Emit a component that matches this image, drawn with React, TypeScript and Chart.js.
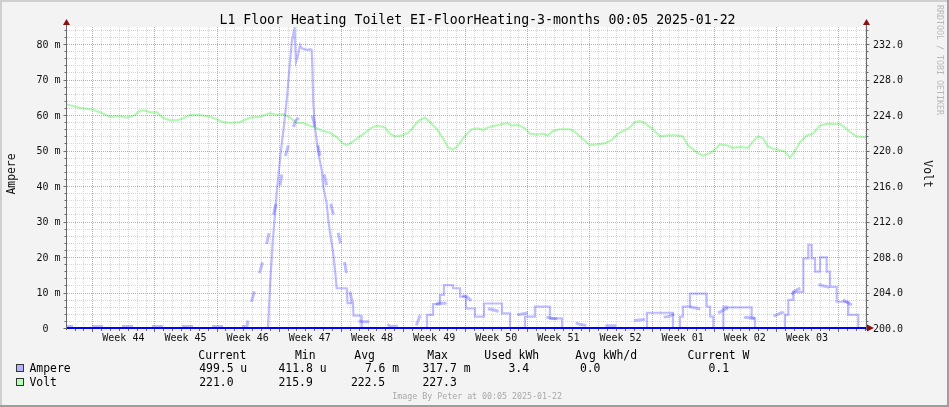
import React, { useEffect, useRef } from "react";
import { Chart, registerables } from "chart.js";

Chart.register(...registerables);

// ---------------- texts ----------------
const TITLE = "L1 Floor Heating Toilet EI-FloorHeating-3-months 00:05 2025-01-22";
const FOOTER = "Image By Peter at 00:05 2025-01-22";
const WATERMARK = "RRDTOOL / TOBI OETIKER";
const LEFT_AXIS_TITLE = "Ampere";
const RIGHT_AXIS_TITLE = "Volt";

// ---------------- axes ----------------
const SPAN_DAYS = 90; // x axis in days from left edge
const FIRST_WEEK_LINE = 2.85; // day of first week boundary
const WEEK_LABELS = ["Week 44", "Week 45", "Week 46", "Week 47", "Week 48", "Week 49", "Week 50", "Week 51", "Week 52", "Week 01", "Week 02", "Week 03"];
const AMP_MAX = 84.79; // milli-ampere
const VOLT_MIN = 200;
const VOLT_MAX = 233.92;
const AMP_TICKS = [0, 10, 20, 30, 40, 50, 60, 70, 80];
const AMP_TICK_LABELS = ["0  ", "10 m", "20 m", "30 m", "40 m", "50 m", "60 m", "70 m", "80 m"];
const VOLT_TICKS = [200, 204, 208, 212, 216, 220, 224, 228, 232];
const VOLT_TICK_LABELS = ["200.0", "204.0", "208.0", "212.0", "216.0", "220.0", "224.0", "228.0", "232.0"];
const AMP_MINOR_STEP = 2;

// ---------------- series ----------------
const voltDays = [0, 0.34, 1.46, 2.93, 3.72, 4.84, 5.97, 6.76, 7.66, 8.22,
  8.78, 9.35, 10.14, 10.81, 11.6, 12.39, 13.06, 13.85, 14.98, 16.1,
  16.89, 17.57, 18.36, 19.48, 20.61, 21.73, 22.86, 23.65, 24.32, 25.11,
  25.9, 26.58, 27.36, 28.15, 28.83, 29.62, 30.41, 31.08, 31.53, 32.21,
  33.0, 33.56, 34.35, 35.02, 35.81, 36.37, 36.94, 37.73, 38.4, 38.85,
  39.53, 40.32, 40.88, 41.67, 42.34, 42.91, 43.36, 43.92, 44.48, 45.05,
  45.61, 46.28, 46.85, 47.41, 48.2, 48.76, 49.55, 50.11, 50.79, 51.58,
  52.14, 52.93, 53.6, 54.17, 54.73, 55.52, 56.64, 57.21, 58.0, 58.9,
  59.68, 60.59, 61.37, 62.05, 62.84, 63.4, 63.96, 64.53, 65.09, 65.99,
  66.78, 67.68, 68.69, 69.37, 69.93, 70.95, 71.62, 72.41, 72.97, 73.54,
  74.32, 75.0, 75.79, 76.69, 77.25, 77.82, 78.38, 78.94, 79.5, 80.07,
  80.86, 81.42, 81.98, 82.55, 83.33, 84.01, 84.8, 85.59, 86.26, 87.05,
  87.61, 88.18, 88.96, 90];
const voltValues = [225.2, 225.1, 224.8, 224.6, 224.3, 223.8, 223.9, 223.7, 224.0, 224.5,
  224.5, 224.3, 224.3, 223.7, 223.4, 223.4, 223.6, 224.0, 224.0, 223.8,
  223.5, 223.2, 223.1, 223.2, 223.7, 223.8, 224.2, 224.0, 224.1, 223.7,
  223.1, 223.1, 222.8, 222.5, 222.2, 222.0, 221.5, 220.8, 220.6, 221.0,
  221.6, 222.0, 222.6, 222.8, 222.6, 221.9, 221.6, 221.7, 222.0, 222.4,
  223.3, 223.7, 223.2, 222.4, 221.4, 220.4, 220.1, 220.4, 221.2, 221.9,
  222.4, 222.5, 222.3, 222.6, 222.8, 222.9, 223.1, 222.8, 222.9, 222.5,
  221.9, 221.8, 221.9, 221.7, 222.2, 222.4, 222.4, 222.1, 221.4, 220.6,
  220.7, 220.8, 221.2, 221.9, 222.3, 222.6, 223.2, 223.3, 223.1, 222.4,
  221.6, 221.7, 221.7, 221.6, 220.6, 219.8, 219.4, 219.7, 220.1, 220.7,
  220.6, 220.3, 220.4, 220.3, 221.0, 221.6, 221.4, 220.5, 220.2, 220.1,
  219.9, 219.2, 219.9, 220.9, 221.7, 221.9, 222.8, 223.0, 223.0, 223.0,
  222.6, 222.1, 221.6, 221.5];

const ampDays = [0, 22.64, 22.87, 23.2, 23.65, 24.1, 24.44, 24.78, 25.12, 25.34,
  25.63, 25.79, 25.99, 26.25, 26.44, 26.81, 27.18, 27.37, 27.56, 27.65,
  27.74, 27.93, 28.31, 28.69, 28.87, 29.25, 29.43, 29.7, 29.99, 30.19,
  30.38, 31.51, 31.6, 32.21, 32.27, 33.12, 33.2,
  40.55, 40.55, 41.23, 41.23, 42.01, 42.01, 42.46, 42.46, 43.48, 43.48,
  44.27, 44.27, 44.94, 44.94, 45.96, 45.96, 46.97, 46.97, 49.0, 49.0,
  49.9, 49.9, 51.59, 51.59, 52.71, 52.71, 54.4, 54.4, 55.76, 55.76,
  65.33, 65.33, 68.26, 68.26, 69.05, 69.05, 69.38, 69.38, 70.17, 70.17,
  72.05, 72.05, 72.43, 72.43, 72.8, 72.8, 73.93, 73.93, 74.31, 74.31,
  77.12, 77.12, 77.5, 77.5, 80.87, 80.87, 81.25, 81.25, 81.81, 81.81,
  82.94, 82.94, 83.5, 83.5, 83.88, 83.88, 84.26, 84.26, 84.82, 84.82,
  85.57, 85.57, 85.94, 85.94, 86.7, 86.7, 88.0, 88.0, 89.13, 89.13, 90];
const ampValues = [0, 0, 12, 25, 39, 50, 57, 65, 75, 81,
  84.5, 75, 76.5, 79.7, 78.8, 78.5, 78.3, 78.6, 78.3, 72.7,
  63.4, 56.7, 49.2, 44.5, 39.8, 35.1, 30.4, 25.7, 21, 16.3,
  11.2, 11.2, 7, 7, 3.5, 3.5, 0,
  0, 3.7, 3.7, 6.7, 6.7, 9.3, 9.3, 12.1, 12.1, 11.2,
  11.2, 8.8, 8.8, 5.5, 5.5, 3.2, 3.2, 6.9, 6.9, 4.1,
  4.1, 0, 0, 3.2, 3.2, 6.0, 6.0, 2.7, 2.7, 0,
  0, 4.3, 4.3, 0, 0, 3.2, 3.2, 6.0, 6.0, 9.7,
  9.7, 6.0, 6.0, 3.2, 3.2, 0, 0, 6.0, 6.0, 5.8,
  5.8, 2.7, 2.7, 0, 0, 3.7, 3.7, 7.9, 7.9, 10.2,
  10.2, 19.6, 19.6, 23.4, 23.4, 19.6, 19.6, 15.9, 15.9, 19.9,
  19.9, 15.9, 15.9, 11.6, 11.6, 7.4, 7.4, 3.7, 3.7, 0, 0];

const ampTrendDays = [0, 20.27, 20.5, 20.84, 21.29, 21.74, 22.19, 22.64, 23.09, 23.54,
  23.99, 24.44, 24.89, 25.34, 25.79, 26.47, 26.92, 27.48, 27.82, 28.05,
  28.38, 28.72, 29.17, 29.51, 29.85, 30.3, 30.75, 31.2, 31.54, 31.88,
  32.21, 32.66, 33.0, 35.82, 36.38, 39.31, 39.76, 40.55, 41.11, 41.79,
  43.14, 43.82, 44.94, 45.39, 46.3, 47.31, 48.21, 49.34, 50.12, 51.03,
  51.93, 53.28, 54.63, 55.76, 56.88, 57.78, 58.91, 62.29, 63.19, 64.77,
  65.67, 66.79, 67.69, 68.48, 69.05, 70.17, 71.07, 71.86, 72.65, 73.55,
  74.23, 75.24, 76.37, 77.72, 78.62, 79.75, 80.65, 81.44, 82.0, 83.47,
  84.59, 85.72, 86.62, 87.63, 88.42];
const ampTrendValues = [0.4, 0.4, 4, 8, 12, 16, 20, 25.5, 30, 35,
  40, 47, 51, 55.5, 58.5, 60, 61, 61, 58, 54,
  50, 46, 41, 37, 33.5, 29.5, 24.5, 19.5, 14.5, 10,
  6.5, 4, 1.8, 1.6, 0.5, 0.5, 3.5, 4.5, 5.5, 7,
  7, 9, 9, 8, 6, 5.5, 5, 4, 3.8, 3.8,
  4.3, 3.5, 2.7, 2.5, 1.8, 1, 0.6, 0.6, 2, 2.3,
  2.5, 3, 3.2, 4, 6, 6, 5.5, 5, 4, 4.5,
  5.5, 5.3, 3, 2.7, 2.5, 3.5, 4.5, 9, 10.5, 12.3,
  12.3, 11.5, 10.5, 7.5, 6.5];

// ---------------- legend ----------------
const LEGEND_HEADERS = ["Current", "Min", "Avg", "Max", "Used kWh", "Avg kWh/d", "Current W"];
const AMPERE_LEGEND = ["499.5 u", "411.8 u", "7.6 m", "317.7 m", "3.4", "0.0", "0.1"];
const VOLT_LEGEND = ["221.0", "215.9", "222.5", "227.3"];

// ---------------- styles / layout ----------------
const MONO = '"DejaVu Sans Mono", monospace';
const BG = "#f3f3f3";
const MINOR_GRID = "#d6d6d6";
const MAJOR_GRID = "#ff9090";
const AXIS = "#6a6a6a";
const ARROW = "#8a1010";
const AMP_COLOR = "rgba(40,40,255,0.3)";
const VOLT_COLOR = "rgba(20,225,20,0.3)";
const HEADER_X = [198.3, 295.0, 354.3, 427.3, 484.3, 575.3, 687.6];
const AMP_X = [199.2, 278.5, 364.9, 422.5, 508.5, 579.9, 708.5];
const VOLT_X = [199.2, 278.5, 350.9, 422.5];

function line(ctx: CanvasRenderingContext2D, x1: number, y1: number, x2: number, y2: number) {
  ctx.beginPath();
  ctx.moveTo(x1, y1);
  ctx.lineTo(x2, y2);
  ctx.stroke();
}

function rotText(ctx: CanvasRenderingContext2D, text: string, x: number, y: number, angle: number, align: CanvasTextAlign) {
  ctx.save();
  ctx.translate(x, y);
  ctx.rotate(angle);
  ctx.textAlign = align;
  ctx.textBaseline = "alphabetic";
  ctx.fillText(text, 0, 0);
  ctx.restore();
}

// daily grid positions: returns [day, isWeekBoundary]
function dayLines(): Array<[number, boolean]> {
  const startDay = FIRST_WEEK_LINE - Math.floor(FIRST_WEEK_LINE);
  const weekIndexOffset = Math.round(FIRST_WEEK_LINE - startDay);
  const out: Array<[number, boolean]> = [];
  for (let i = 0; startDay + i <= SPAN_DAYS; i++) {
    const k = i - weekIndexOffset;
    out.push([startDay + i, ((k % 7) + 7) % 7 === 0]);
  }
  return out;
}

const rrdPlugin = {
  id: "rrdStyle",
  beforeDraw(chart: any) {
    const { ctx, chartArea: a, width, height } = chart;
    ctx.save();
    ctx.fillStyle = BG;
    ctx.fillRect(0, 0, width, height);
    ctx.fillStyle = "#cfcfcf";
    ctx.fillRect(0, 0, width, 2);
    ctx.fillRect(0, 0, 2, height);
    ctx.fillStyle = "#9e9e9e";
    ctx.fillRect(0, height - 2, width, 2);
    ctx.fillRect(width - 2, 0, 2, height);
    ctx.fillStyle = "#ffffff";
    ctx.fillRect(a.left, a.top, a.right - a.left, a.bottom - a.top);
    ctx.restore();
  },
  beforeDatasetsDraw(chart: any) {
    const { ctx, chartArea: a } = chart;
    const xs = chart.scales.x;
    const ys = chart.scales.y;
    ctx.save();
    ctx.lineWidth = 1;
    ctx.setLineDash([1, 1]);
    // minor
    ctx.strokeStyle = MINOR_GRID;
    for (let v = AMP_MINOR_STEP; v < AMP_MAX; v += AMP_MINOR_STEP) {
      if (AMP_TICKS.includes(v)) continue;
      const y = Math.round(ys.getPixelForValue(v)) + 0.5;
      line(ctx, a.left, y, a.right, y);
    }
    const days = dayLines();
    days.forEach(([d, wk]) => {
      if (wk) return;
      const x = Math.round(xs.getPixelForValue(d)) + 0.5;
      line(ctx, x, a.top, x, a.bottom);
    });
    // major
    ctx.strokeStyle = MAJOR_GRID;
    AMP_TICKS.forEach((v) => {
      if (v === 0) return;
      const y = Math.round(ys.getPixelForValue(v)) + 0.5;
      line(ctx, a.left, y, a.right, y);
    });
    days.forEach(([d, wk]) => {
      if (!wk) return;
      const x = Math.round(xs.getPixelForValue(d)) + 0.5;
      line(ctx, x, a.top, x, a.bottom);
    });
    ctx.restore();
  },
  afterDatasetsDraw(chart: any) {
    const { ctx, chartArea: a } = chart;
    const xs = chart.scales.x;
    const ys = chart.scales.y;
    const y2 = chart.scales.y2;
    ctx.save();
    // zero line
    const y0 = ys.getPixelForValue(0);
    ctx.strokeStyle = "#0000ff";
    ctx.lineWidth = 2;
    line(ctx, a.left, y0, a.right, y0);

    // axes
    ctx.strokeStyle = AXIS;
    ctx.lineWidth = 1;
    const lx = a.left - 0.5;
    const rx = a.right + 0.5;
    line(ctx, lx, a.top - 3, lx, y0 + 2);
    line(ctx, rx, a.top - 3, rx, y0 + 2);
    for (let v = 0; v < AMP_MAX; v += AMP_MINOR_STEP) {
      const y = Math.round(ys.getPixelForValue(v)) + 0.5;
      const major = AMP_TICKS.includes(v);
      line(ctx, lx - (major ? 3 : 2), y, lx, y);
      line(ctx, rx, y, rx + (major ? 3 : 2), y);
    }
    dayLines().forEach(([d, wk]) => {
      const x = Math.round(xs.getPixelForValue(d)) + 0.5;
      line(ctx, x, y0 + 1, x, y0 + (wk ? 4 : 3));
    });

    // arrows
    ctx.fillStyle = ARROW;
    const up = (x: number) => {
      ctx.beginPath();
      ctx.moveTo(x, a.top - 8);
      ctx.lineTo(x - 3.5, a.top - 2);
      ctx.lineTo(x + 3.5, a.top - 2);
      ctx.closePath();
      ctx.fill();
    };
    up(lx);
    up(rx);
    ctx.beginPath();
    ctx.moveTo(a.right + 8, y0);
    ctx.lineTo(a.right + 1, y0 - 3.5);
    ctx.lineTo(a.right + 1, y0 + 3.5);
    ctx.closePath();
    ctx.fill();

    // tick labels
    ctx.fillStyle = "#111";
    ctx.font = `10px ${MONO}`;
    ctx.textBaseline = "alphabetic";
    ctx.textAlign = "right";
    AMP_TICKS.forEach((v, i) => {
      ctx.fillText(AMP_TICK_LABELS[i], a.left - 6.5, ys.getPixelForValue(v) + 3.5);
    });
    ctx.textAlign = "left";
    VOLT_TICKS.forEach((v, i) => {
      ctx.fillText(VOLT_TICK_LABELS[i], a.right + 7, y2.getPixelForValue(v) + 3.5);
    });
    ctx.textAlign = "center";
    WEEK_LABELS.forEach((lab, i) => {
      const d = FIRST_WEEK_LINE + 3.5 + 7 * i;
      ctx.fillText(lab, xs.getPixelForValue(d), y0 + 13);
    });

    // axis titles
    ctx.font = `11.4px ${MONO}`;
    rotText(ctx, LEFT_AXIS_TITLE, 14.5, 174, -Math.PI / 2, "center");
    rotText(ctx, RIGHT_AXIS_TITLE, 923.5, 174, Math.PI / 2, "center");

    // title
    ctx.font = `13.2px ${MONO}`;
    ctx.textAlign = "center";
    ctx.fillStyle = "#000";
    ctx.fillText(TITLE, 477.5, 24);

    // watermark
    ctx.fillStyle = "#b8b8b8";
    ctx.font = `8.3px ${MONO}`;
    rotText(ctx, WATERMARK, 937, 5, Math.PI / 2, "left");

    // legend
    ctx.font = `11.4px ${MONO}`;
    ctx.fillStyle = "#000";
    ctx.textAlign = "left";
    LEGEND_HEADERS.forEach((t, i) => ctx.fillText(t, HEADER_X[i], 358.5));
    ctx.fillText("Ampere", 29.5, 372.3);
    AMPERE_LEGEND.forEach((t, i) => ctx.fillText(t, AMP_X[i], 372.3));
    ctx.fillText("Volt", 29.5, 385.7);
    VOLT_LEGEND.forEach((t, i) => ctx.fillText(t, VOLT_X[i], 385.7));
    ctx.lineWidth = 1;
    ctx.strokeStyle = "#333";
    ctx.fillStyle = "#b3b3ff";
    ctx.fillRect(16, 364, 8, 8);
    ctx.strokeRect(16.5, 364.5, 7, 7);
    ctx.fillStyle = "#b3ffb3";
    ctx.fillRect(16, 378, 8, 8);
    ctx.strokeRect(16.5, 378.5, 7, 7);

    // footer
    ctx.fillStyle = "#a8a8a8";
    ctx.font = `8.3px ${MONO}`;
    ctx.fillText(FOOTER, 392.2, 398.5);
    ctx.restore();
  },
};

export default function App() {
  const ref = useRef<HTMLCanvasElement | null>(null);
  useEffect(() => {
    if (!ref.current) return;
    const chart = new Chart(ref.current, {
      type: "scatter",
      data: {
        datasets: [
          {
            label: "Ampere",
            data: ampDays.map((d, i) => ({ x: d, y: ampValues[i] })),
            yAxisID: "y",
            showLine: true,
            borderColor: AMP_COLOR,
            backgroundColor: AMP_COLOR,
            borderWidth: 2.2,
            pointRadius: 0,
            tension: 0,
          },
          {
            label: "Ampere trend",
            data: ampTrendDays.map((d, i) => ({ x: d, y: ampTrendValues[i] })),
            yAxisID: "y",
            showLine: true,
            borderColor: AMP_COLOR,
            backgroundColor: AMP_COLOR,
            borderWidth: 3,
            borderDash: [11, 19],
            borderDashOffset: 5,
            borderCapStyle: "butt",
            pointRadius: 0,
            tension: 0,
          },
          {
            label: "Volt",
            data: voltDays.map((d, i) => ({ x: d, y: voltValues[i] })),
            yAxisID: "y2",
            showLine: true,
            borderColor: VOLT_COLOR,
            backgroundColor: VOLT_COLOR,
            borderWidth: 2.2,
            pointRadius: 0,
            tension: 0,
          },
        ],
      },
      options: {
        responsive: false,
        animation: false,
        devicePixelRatio: 1,
        events: [],
        layout: { padding: { left: 67, right: 83, top: 27, bottom: 79 } },
        plugins: { legend: { display: false }, tooltip: { enabled: false }, title: { display: false } },
        scales: {
          x: { type: "linear", display: false, min: 0, max: SPAN_DAYS },
          y: { type: "linear", display: false, min: 0, max: AMP_MAX },
          y2: { type: "linear", display: false, min: VOLT_MIN, max: VOLT_MAX, position: "right" },
        },
      },
      plugins: [rrdPlugin],
    } as any);
    return () => chart.destroy();
  }, []);
  return (
    <div style={{ position: "fixed", left: 0, top: 0, width: 949, height: 407 }}>
      <canvas ref={ref} width={949} height={407} style={{ display: "block", width: 949, height: 407 }} />
    </div>
  );
}
